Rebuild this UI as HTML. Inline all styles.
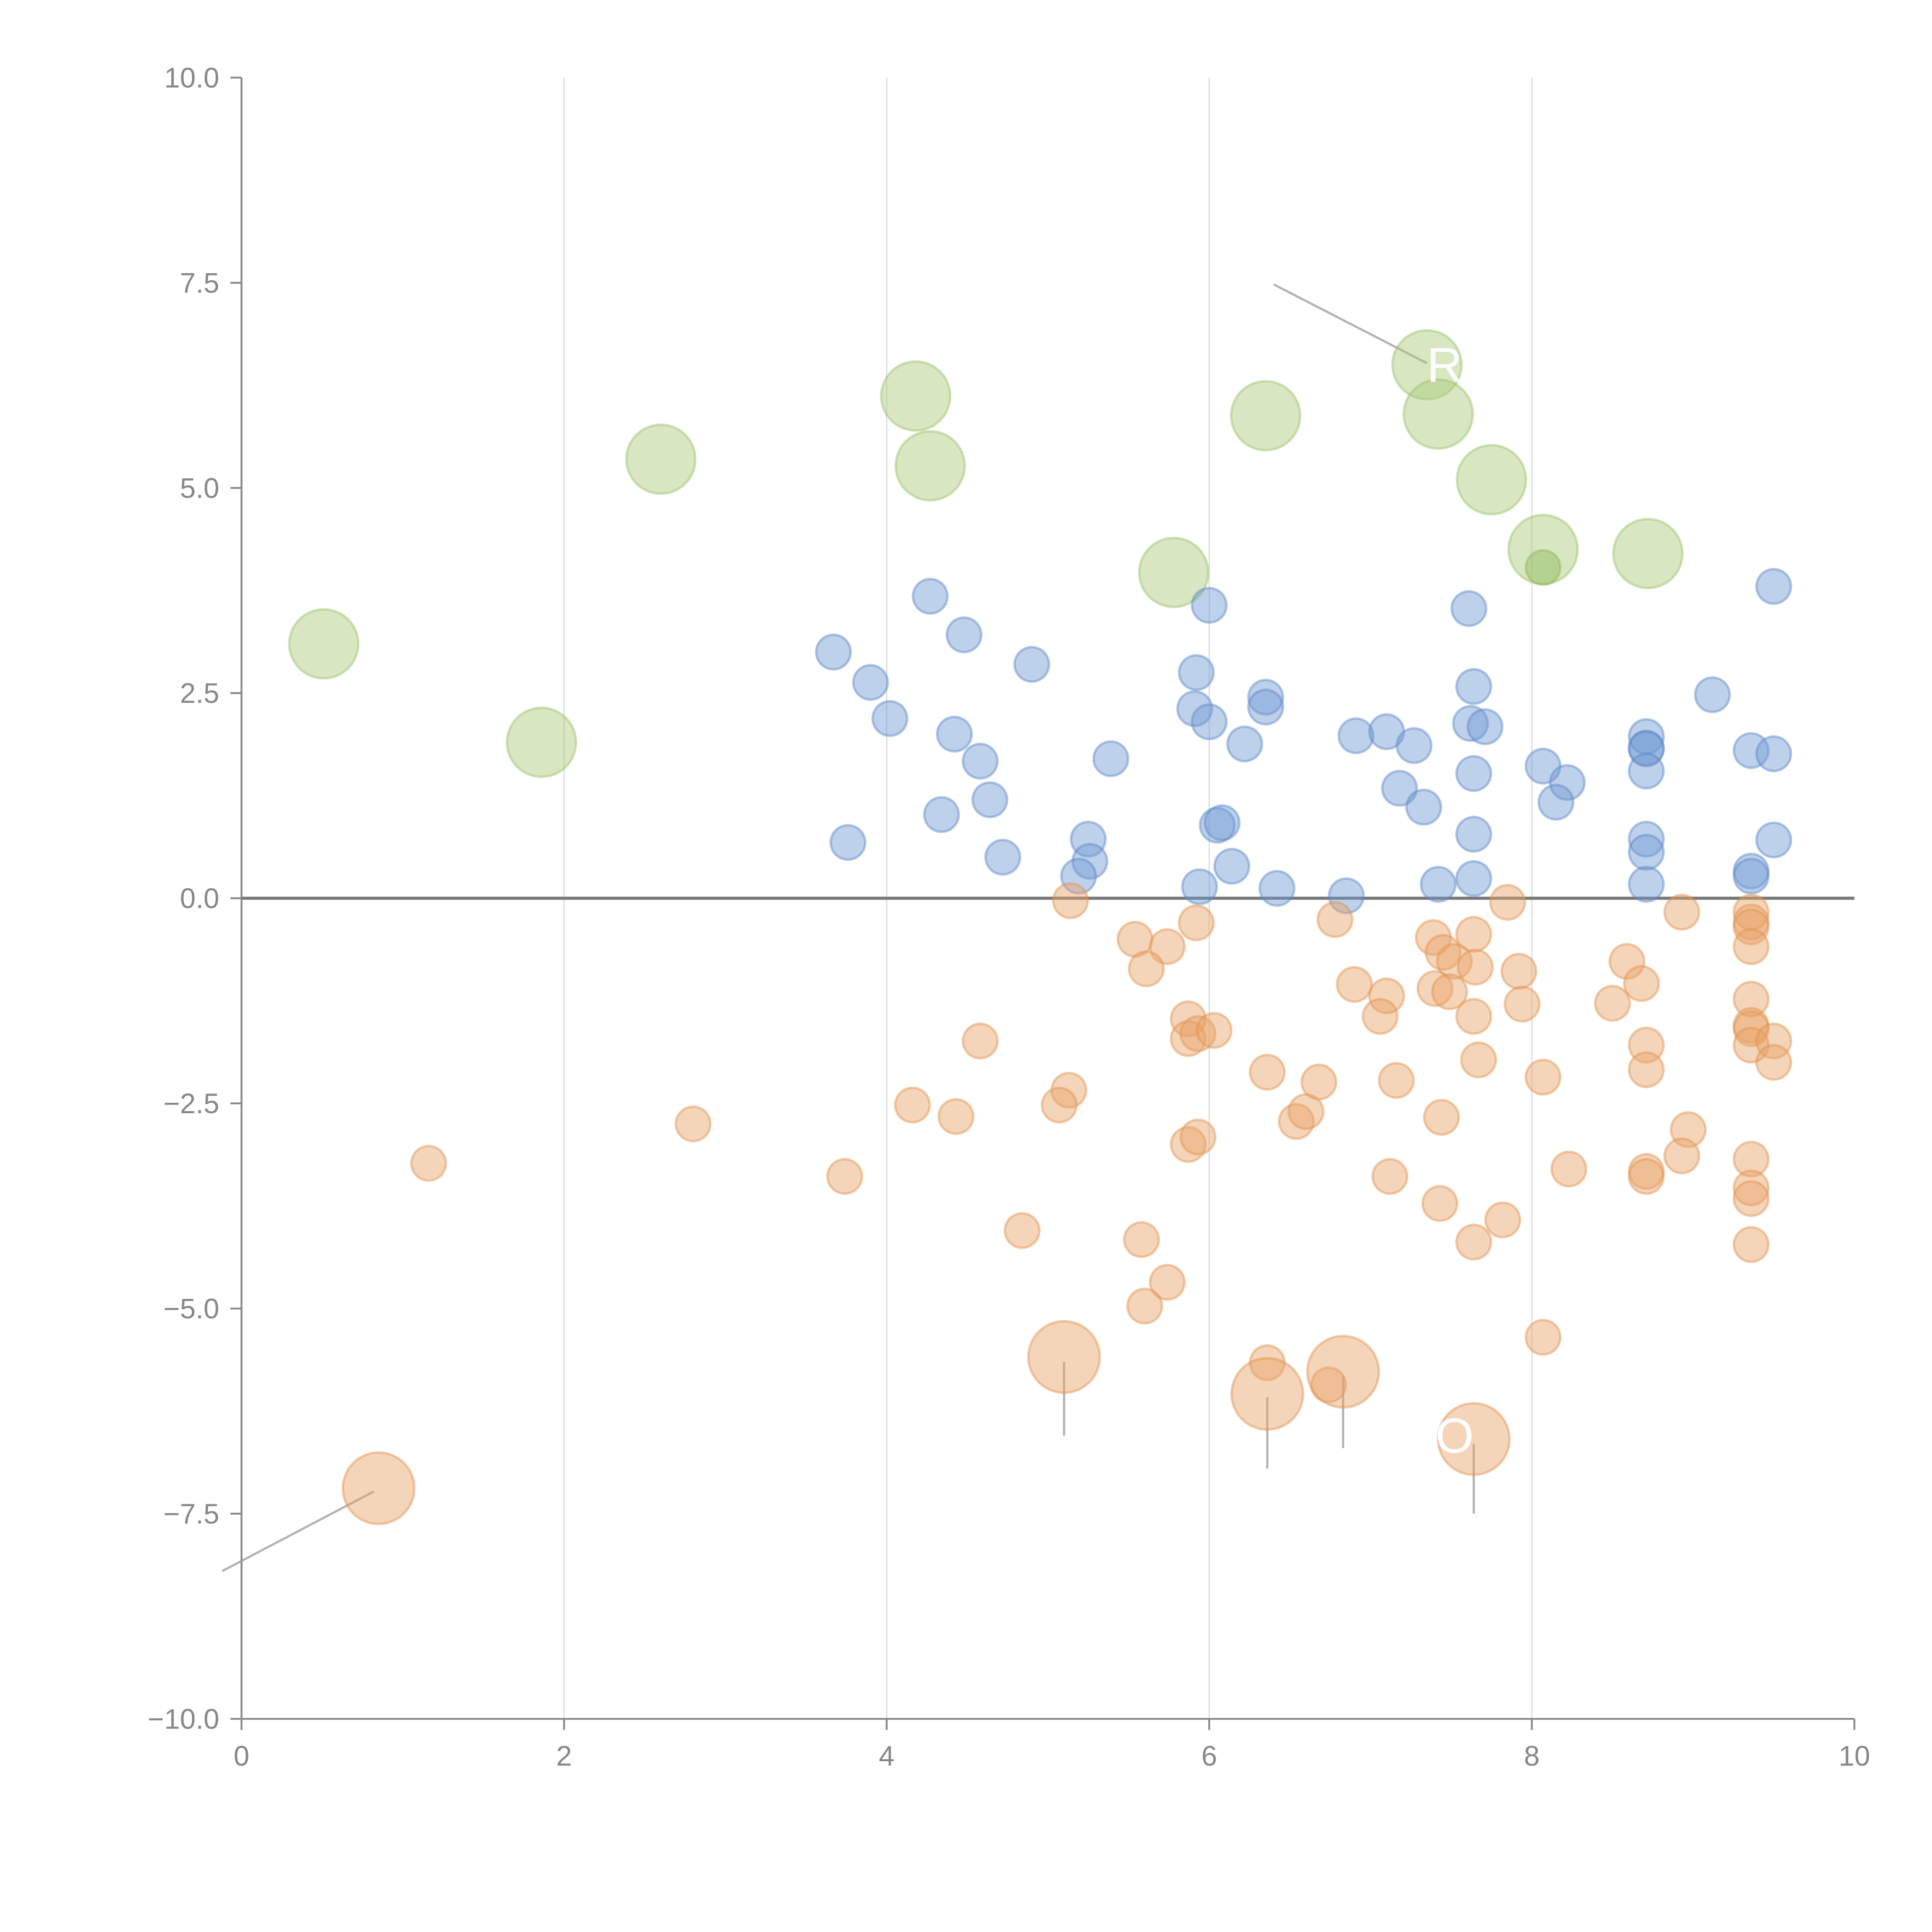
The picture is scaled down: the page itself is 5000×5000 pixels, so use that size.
<!DOCTYPE html>
<html><head><meta charset="utf-8"><style>
html,body{margin:0;padding:0;background:#fff;}
svg{display:block;}
text{font-family:"Liberation Sans",sans-serif;}
</style></head>
<body>
<svg id="chart" width="5000" height="5000" viewBox="0 0 1568 1568" xmlns="http://www.w3.org/2000/svg">
<g id="grid"></g>
<g id="axes"></g>
<g id="annotations"></g>
<g id="marks"></g>
<g id="labels"></g>
</svg>
<script>
const xTicks=[0,2,4,6,8,10];
const yTicks=[-10,-7.5,-5,-2.5,0,2.5,5,7.5,10];
const yTickLabels=["\u221210.0","\u22127.5","\u22125.0","\u22122.5","0.0","2.5","5.0","7.5","10.0"];
const greenX=[0.51,1.86,2.6,4.18,4.27,5.78,6.35,7.35,7.42,7.75,8.07,8.72];
const greenY=[3.1,1.9,5.35,6.12,5.27,3.97,5.88,6.5,5.9,5.1,4.25,4.2];
const smallGreenX=[8.07];
const smallGreenY=[4.03];
const blueX=[3.67,3.9,4.02,3.76,4.27,4.48,4.42,4.34,4.58,4.64,4.72,4.9,5.25,5.26,5.19,5.39,6.0,5.92,5.91,6.0,6.05,6.08,5.94,6.14,6.22,6.35,6.35,6.42,6.85,6.91,7.1,7.27,7.18,7.33,7.42,7.61,7.64,7.62,7.71,7.64,7.64,7.64,8.07,8.22,8.15,8.71,8.71,8.71,8.71,8.71,8.71,8.71,9.12,9.36,9.5,9.5,9.36,9.36,9.5];
const blueY=[3.0,2.63,2.19,0.68,3.68,3.21,2.0,1.02,1.67,1.2,0.5,2.85,0.72,0.45,0.27,1.7,3.57,2.75,2.31,2.15,0.89,0.92,0.14,0.39,1.88,2.45,2.33,0.12,0.03,1.98,2.03,1.86,1.34,1.11,0.17,3.53,2.58,2.13,2.09,1.52,0.78,0.24,1.61,1.41,1.17,1.97,1.83,1.82,1.55,0.72,0.56,0.17,2.48,1.8,1.76,3.8,0.33,0.27,0.71];
const orangeX=[5.14,5.54,5.74,5.61,5.92,5.87,5.87,5.93,6.03,4.58,1.16,2.8,3.74,4.16,4.43,5.13,5.07,4.84,5.58,5.74,5.6,5.87,5.93,6.36,6.54,6.6,6.68,6.78,6.9,7.1,7.06,7.16,7.12,7.39,7.45,7.52,7.4,7.49,7.64,7.65,7.64,7.67,7.44,7.43,7.64,7.82,7.85,7.92,7.94,8.07,8.23,8.07,8.59,8.68,8.5,8.71,8.71,8.71,8.71,8.93,8.97,8.93,9.36,9.36,9.36,9.36,9.36,9.36,9.36,9.36,9.5,9.5,9.36,9.36,9.36,9.36,6.36,6.74];
const orangeY=[-0.03,-0.5,-0.59,-0.86,-0.3,-1.47,-1.71,-1.65,-1.61,-1.74,-3.23,-2.75,-3.39,-2.52,-2.66,-2.34,-2.52,-4.05,-4.16,-4.68,-4.97,-3.0,-2.91,-2.12,-2.72,-2.6,-2.24,-0.26,-1.05,-1.19,-1.44,-2.22,-3.39,-0.48,-0.66,-0.77,-1.1,-1.14,-0.44,-0.84,-1.44,-1.97,-2.67,-3.72,-4.19,-3.92,-0.05,-0.89,-1.29,-2.18,-3.3,-5.35,-0.77,-1.04,-1.28,-1.79,-2.09,-3.33,-3.39,-0.17,-2.82,-3.14,-0.17,-0.29,-0.35,-0.59,-1.23,-1.55,-1.59,-1.79,-1.74,-2.0,-3.18,-3.53,-3.66,-4.22,-5.66,-5.93];
const bigOrangeX=[5.1,6.36,6.83,7.64,0.85];
const bigOrangeY=[-5.59,-6.04,-5.77,-6.59,-7.19];

const NS="http://www.w3.org/2000/svg";
const X0=196,X1=1505,Y0=1395,Y1=63;
function sx(v){return X0+(v-0)/(10-0)*(X1-X0);}
function sy(v){return Y0-(v+10)/20*(Y0-Y1);}
function mk(tag,attrs,parent){const e=document.createElementNS(NS,tag);for(const k in attrs)e.setAttribute(k,attrs[k]);parent.appendChild(e);return e;}

const grid=document.getElementById('grid');
xTicks.forEach(t=>{if(t>0&&t<10){const l=mk('line',{x1:sx(t),x2:sx(t),y1:Y1,y2:Y0,stroke:'#dcdcdc','stroke-width':1},grid);

}});

const axes=document.getElementById('axes');
const ya=mk('line',{x1:X0,x2:X0,y1:Y1,y2:Y0,stroke:'#888','stroke-width':1.5},axes);


const xa=mk('line',{x1:X0,x2:X1,y1:Y0,y2:Y0,stroke:'#888','stroke-width':1.5},axes);


const zl=mk('line',{x1:X0,x2:X1,y1:sy(0),y2:sy(0),stroke:'#777','stroke-width':2.5},axes);


yTicks.forEach((t,i)=>{
 const tk=mk('line',{x1:X0-9,x2:X0,y1:sy(t),y2:sy(t),stroke:'#888','stroke-width':1.5},axes);
 
 
 const tx=mk('text',{x:X0-18,y:sy(t)+8,'text-anchor':'end','font-size':23,fill:'#888'},axes);
 tx.textContent=yTickLabels[i];
 
 
});
xTicks.forEach(t=>{
 const tk=mk('line',{x1:sx(t),x2:sx(t),y1:Y0,y2:Y0+9,stroke:'#888','stroke-width':1.5},axes);
 
 
 const tx=mk('text',{x:sx(t),y:Y0+38,'text-anchor':'middle','font-size':23,fill:'#888'},axes);
 tx.textContent=String(t);
 
 
});

const marks=document.getElementById('marks');
function series(xs,ys,r,fill,stroke,name){
 xs.forEach((v,i)=>{
  const c=mk('circle',{cx:sx(v),cy:sy(ys[i]),r:r,fill:fill,'fill-opacity':0.45,stroke:stroke,'stroke-opacity':0.45,'stroke-width':2},marks);
  
  
 });
}
series(greenX,greenY,28,'#a9c978','#9cc06a','green-bubble');
series(blueX,blueY,14,'#6f98d2','#5d88c8','blue-point');
series(smallGreenX,smallGreenY,14,'#8fb858','#8fb858','small-green-point');
series(orangeX,orangeY,14,'#e8a266','#e0924f','orange-point');
series(bigOrangeX,bigOrangeY,29,'#e8a266','#e0924f','large-orange-bubble');

const ann=document.getElementById('annotations');
const annX1=[6.4,-0.12,5.1,6.36,6.83,7.64];
const annY1=[7.48,-8.2,-5.65,-6.08,-5.82,-6.65];
const annX2=[7.35,0.82,5.1,6.36,6.83,7.64];
const annY2=[6.52,-7.23,-6.55,-6.95,-6.7,-7.5];
annX1.forEach((v,i)=>{
 const l=mk('line',{x1:sx(v),y1:sy(annY1[i]),x2:sx(annX2[i]),y2:sy(annY2[i]),stroke:'#999','stroke-opacity':0.75,'stroke-width':1.8},ann);
 
 
});

const labels=document.getElementById('labels');
const lr=mk('text',{x:1158,y:310,'font-size':40,fill:'#fff'},labels);
lr.textContent='R';


const lo=mk('text',{x:1165,y:1179,'font-size':40,fill:'#fff'},labels);
lo.textContent='O';


</script>
</body></html>
